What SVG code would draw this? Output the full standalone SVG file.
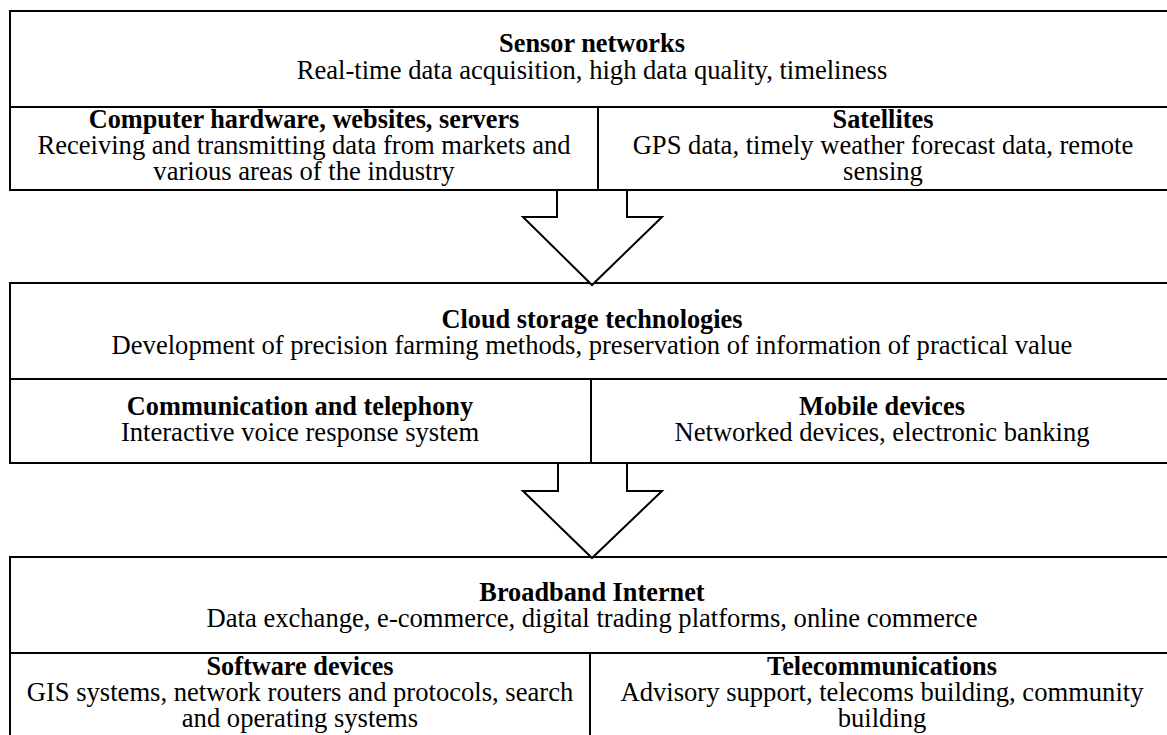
<svg xmlns="http://www.w3.org/2000/svg" width="1167" height="735" viewBox="0 0 1167 735">
  <style>
    .box { fill: #fff; stroke: #000; stroke-width: 2; }
    .arrow { fill: #fff; stroke: #000; stroke-width: 2; stroke-linejoin: miter; }
    text { font-family: "Liberation Serif", "Times New Roman", serif; font-size: 26.6px; fill: #000; text-anchor: middle; }
    .title { font-weight: bold; font-size: 26.3px; }
  </style>
  <rect width="1167" height="735" fill="#fff"/>

  <!-- Level 1: data sources -->
  <g id="sensor-networks">
    <rect class="box" x="10" y="11" width="1166" height="96"/>
    <text class="title" x="592" y="52">Sensor networks</text>
    <text x="592" y="79">Real-time data acquisition, high data quality, timeliness</text>
  </g>
  <g id="computer-hardware">
    <rect class="box" x="10" y="107" width="588" height="83"/>
    <text class="title" x="304" y="128">Computer hardware, websites, servers</text>
    <text x="304" y="154">Receiving and transmitting data from markets and</text>
    <text x="304" y="180">various areas of the industry</text>
  </g>
  <g id="satellites">
    <rect class="box" x="598" y="107" width="578" height="83"/>
    <text class="title" x="883" y="128">Satellites</text>
    <text x="883" y="154">GPS data, timely weather forecast data, remote</text>
    <text x="883" y="180">sensing</text>
  </g>

  <!-- Level 2: storage and access -->
  <g id="cloud-storage">
    <rect class="box" x="10" y="283" width="1166" height="96"/>
    <text class="title" x="592" y="328">Cloud storage technologies</text>
    <text x="592" y="354">Development of precision farming methods, preservation of information of practical value</text>
  </g>
  <g id="communication">
    <rect class="box" x="10" y="379" width="581" height="84"/>
    <text class="title" x="300" y="415">Communication and telephony</text>
    <text x="300" y="441">Interactive voice response system</text>
  </g>
  <g id="mobile-devices">
    <rect class="box" x="591" y="379" width="585" height="84"/>
    <text class="title" x="882" y="415">Mobile devices</text>
    <text x="882" y="441">Networked devices, electronic banking</text>
  </g>

  <!-- Level 3: networks and services -->
  <g id="broadband-internet">
    <rect class="box" x="10" y="557" width="1166" height="96"/>
    <text class="title" x="592" y="601">Broadband Internet</text>
    <text x="592" y="627">Data exchange, e-commerce, digital trading platforms, online commerce</text>
  </g>
  <g id="software-devices">
    <rect class="box" x="10" y="653" width="580" height="100"/>
    <text class="title" x="300" y="675">Software devices</text>
    <text x="300" y="701">GIS systems, network routers and protocols, search</text>
    <text x="300" y="727">and operating systems</text>
  </g>
  <g id="telecommunications">
    <rect class="box" x="590" y="653" width="586" height="100"/>
    <text class="title" x="882" y="675">Telecommunications</text>
    <text x="882" y="701">Advisory support, telecoms building, community</text>
    <text x="882" y="727">building</text>
  </g>

  <!-- Block arrows between levels -->
  <g id="connectors">
    <polygon class="arrow" points="557,190 557,217 523,217 592,285 662,217 627,217 627,190"/>
    <polygon class="arrow" points="558,463 558,491 523,491 592,558 662,491 627,491 627,463"/>
  </g>
</svg>
